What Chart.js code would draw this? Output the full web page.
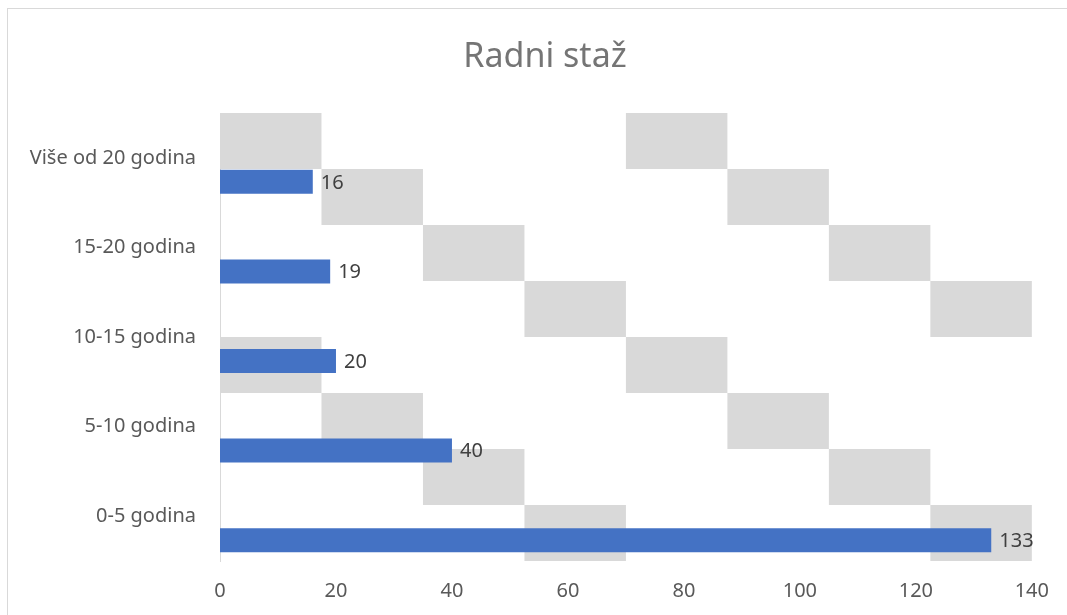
<!DOCTYPE html>
<html>
<head>
    <meta charset="utf-8">
    <title>Radni staž</title>
    <script src="https://cdn.jsdelivr.net/npm/chart.js"></script>
    <style>
        body {
            margin: 0;
            padding: 0;
            background-color: #fff;
        }

        .chart-container {
            width: 1067px;
            height: 615px;
            position: relative;
        }
    </style>
</head>
<body>
    <div class="chart-container">
        <canvas id="stazChart"></canvas>
    </div>

    <script>
        const categories = ['Više od 20 godina', '15-20 godina', '10-15 godina', '5-10 godina', '0-5 godina'];
        const employees = [16, 19, 20, 40, 133];
        const emptySeries = [null, null, null, null, null];
        const xTicks = [0, 20, 40, 60, 80, 100, 120, 140];
        const chartTitle = 'Radni staž';

        const labelFont = { family: 'Noto Sans', size: 20 };

        // grey checker pattern behind the bars, frame and title
        const backdrop = {
            id: 'backdrop',
            beforeDraw(chart) {
                const ctx = chart.ctx;
                ctx.save();
                ctx.strokeStyle = '#d9d9d9';
                ctx.lineWidth = 1;
                ctx.strokeRect(7.5, 8.5, 1100, 700);
                ctx.fillStyle = '#757575';
                ctx.font = '34px "Noto Sans"';
                ctx.textAlign = 'center';
                ctx.textBaseline = 'middle';
                ctx.fillText(chartTitle, 545, 57);
                ctx.restore();
            },
            beforeDatasetsDraw(chart) {
                const a = chart.chartArea;
                const ctx = chart.ctx;
                const w = (a.right - a.left) / 8;
                const h = (a.bottom - a.top) / 8;
                ctx.save();
                ctx.fillStyle = '#d9d9d9';
                for (let r = 0; r < 8; r++) {
                    for (let c = 0; c < 8; c++) {
                        if ((c - r + 8) % 4 === 0) {
                            ctx.fillRect(a.left + c * w, a.top + r * h, w, h);
                        }
                    }
                }
                ctx.restore();
            }
        };

        // value labels to the right of the bars
        const valueLabels = {
            id: 'valueLabels',
            afterDatasetsDraw(chart) {
                const ctx = chart.ctx;
                const meta = chart.getDatasetMeta(2);
                ctx.save();
                ctx.fillStyle = '#404040';
                ctx.font = '20px "Noto Sans"';
                ctx.textBaseline = 'middle';
                ctx.textAlign = 'left';
                meta.data.forEach((bar, i) => {
                    ctx.fillText(employees[i], bar.x + 8, bar.y + 1);
                });
                ctx.restore();
            }
        };

        new Chart(document.getElementById('stazChart'), {
            type: 'bar',
            data: {
                labels: categories,
                datasets: [
                    { label: '', data: emptySeries },
                    { label: '', data: emptySeries },
                    { label: chartTitle, data: employees, backgroundColor: '#4472c4' }
                ]
            },
            options: {
                indexAxis: 'y',
                responsive: true,
                maintainAspectRatio: false,
                animation: false,
                categoryPercentage: 0.8036,
                barPercentage: 1,
                layout: { padding: { left: 0, right: 34, top: 113, bottom: 0 } },
                plugins: {
                    legend: { display: false },
                    tooltip: { enabled: false },
                    title: { display: false }
                },
                scales: {
                    x: {
                        min: 0,
                        max: 140,
                        afterBuildTicks(scale) {
                            scale.ticks = xTicks.map(v => ({ value: v }));
                        },
                        grid: { display: false, drawTicks: false },
                        border: { display: false },
                        ticks: { color: '#595959', font: labelFont, padding: 18 },
                        afterFit(scale) { scale.height = 54; }
                    },
                    y: {
                        grid: { display: false, drawTicks: false },
                        border: { display: true, color: '#d9d9d9', width: 1 },
                        ticks: { color: '#595959', font: labelFont, padding: 24 },
                        afterFit(scale) { scale.width = 220; }
                    }
                }
            },
            plugins: [backdrop, valueLabels]
        });
    </script>
</body>
</html>
